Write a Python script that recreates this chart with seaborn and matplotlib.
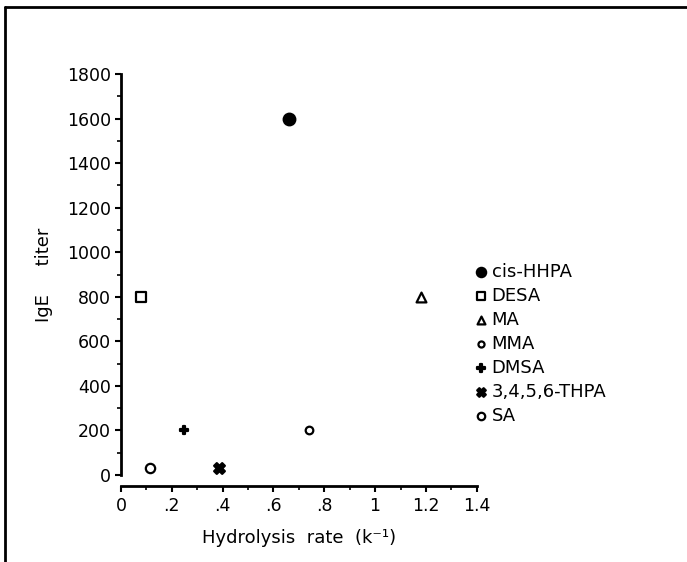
"""IgE titer vs hydrolysis rate for acid anhydrides."""

import matplotlib
matplotlib.use("Agg")
import matplotlib.pyplot as plt
import numpy as np
import pandas as pd
import seaborn as sns
from matplotlib.lines import Line2D
from matplotlib.ticker import MultipleLocator, FuncFormatter

compuestos = ["cis-HHPA", "DESA", "MA", "MMA", "DMSA", "3,4,5,6-THPA", "SA"]
tasa_hidrolisis = [0.66, 0.08, 1.18, 0.74, 0.25, 0.385, 0.115]
titulo_ige = [1600, 800, 800, 200, 200, 30, 30]

marcadores = ["o", "s", "^", "o", "P", "X", "o"]
rellenos = ["black", "white", "white", "white", "black", "black", "white"]
tamanos = [70, 55, 50, 30, 40, 60, 45]

df = pd.DataFrame({"compuesto": compuestos, "tasa": tasa_hidrolisis, "ige": titulo_ige})

sns.set_theme(style="white")
plt.rcParams["font.family"] = ["DejaVu Sans"]
plt.rcParams["text.color"] = "black"

fig = plt.figure(figsize=(6.87, 5.62), dpi=100)
ax = fig.add_axes([0.176, 0.155, 0.518, 0.713])

for i, fila in df.iterrows():
    sns.scatterplot(
        x=[fila["tasa"]],
        y=[fila["ige"]],
        ax=ax,
        marker=marcadores[i],
        color=rellenos[i],
        edgecolor="black",
        linewidth=1.6,
        s=tamanos[i],
        label=fila["compuesto"],
        clip_on=False,
        zorder=3,
    )

ax.set_xlim(0, 1.4)
ax.set_ylim(0, 1800)
ax.xaxis.set_major_locator(MultipleLocator(0.2))
ax.xaxis.set_minor_locator(MultipleLocator(0.1))
ax.yaxis.set_major_locator(MultipleLocator(200))
ax.yaxis.set_minor_locator(MultipleLocator(100))


def fmt_x(v, pos):
    if abs(v - round(v)) < 1e-9:
        return f"{int(round(v))}"
    s = f"{v:.1f}"
    return s[1:] if s.startswith("0") else s


ax.xaxis.set_major_formatter(FuncFormatter(fmt_x))

for lado in ["top", "right"]:
    ax.spines[lado].set_visible(False)
for lado in ["left", "bottom"]:
    ax.spines[lado].set_linewidth(2)
    ax.spines[lado].set_color("black")
ax.spines["bottom"].set_position(("outward", 8))

ax.tick_params(axis="both", which="major", direction="out", length=4, width=1.5,
               color="black", labelsize=12.5, labelcolor="black", pad=3)
ax.tick_params(axis="both", which="minor", direction="out", length=3, width=1.2, color="black")
ax.tick_params(axis="x", which="major", pad=4)
ax.tick_params(left=True, bottom=True, which="both")

ax.set_xlabel("Hydrolysis  rate  (k⁻¹)", fontsize=13, color="black", labelpad=10)
ax.set_ylabel("IgE     titer", fontsize=13, color="black", labelpad=10)

leg = ax.legend(
    loc="upper left",
    bbox_to_anchor=(461 / 687, 1 - 254 / 562),
    bbox_transform=fig.transFigure,
    frameon=False,
    fontsize=13,
    handletextpad=0.0,
    labelspacing=0.33,
    borderpad=0,
    handlelength=1.2,
    markerscale=0.8,
)
for t in leg.get_texts():
    t.set_color("black")

# marco de la figura (solo borde superior e izquierdo)
fig.add_artist(Line2D([5 / 687, 1], [1 - 7 / 562, 1 - 7 / 562], transform=fig.transFigure,
                      color="black", linewidth=2))
fig.add_artist(Line2D([5 / 687, 5 / 687], [0, 1 - 7 / 562], transform=fig.transFigure,
                      color="black", linewidth=2))

fig.savefig("out.png", dpi=100, facecolor="white")
